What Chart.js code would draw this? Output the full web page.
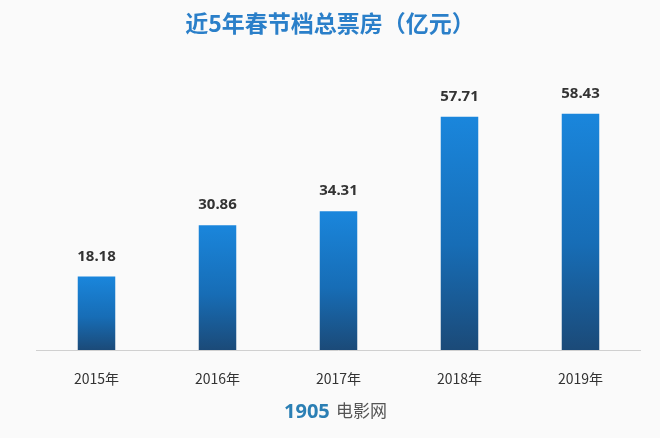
<!DOCTYPE html>
<html>
<head>
<meta charset="utf-8">
<script src="https://cdn.jsdelivr.net/npm/chart.js@4"></script>
<style>
  body { margin: 0; background: #fafafa; }
  #wrap { width: 660px; height: 438px; }
</style>
</head>
<body>
<div id="wrap"><canvas id="myChart" width="660" height="438"></canvas></div>
<script>
var years = ["2015年", "2016年", "2017年", "2018年", "2019年"];
var boxOffice = [18.18, 30.86, 34.31, 57.71, 58.43];
var chartTitle = "近5年春节档总票房（亿元）";

var ctx = document.getElementById("myChart").getContext("2d");

// labels, baseline, title and logo
var decorations = {
    id: "decorations",
    afterDatasetsDraw: function (chart) {
        var c = chart.ctx;
        var x = chart.scales.x, y = chart.scales.y;
        var area = chart.chartArea;
        c.save();
        c.strokeStyle = "#d0d0d0";
        c.lineWidth = 1;
        c.beginPath();
        c.moveTo(area.left, y.getPixelForValue(0) + 0.5);
        c.lineTo(area.right, y.getPixelForValue(0) + 0.5);
        c.stroke();

        c.textAlign = "center";
        c.fillStyle = "#333";
        c.font = "bold 15px 'Noto Sans', 'DejaVu Sans', sans-serif";
        boxOffice.forEach(function (v, i) {
            c.fillText(v.toFixed(2), x.getPixelForValue(i), y.getPixelForValue(v) - 16);
        });
        c.font = "14px 'Noto Sans CJK SC', sans-serif";
        c.fillStyle = "#333";
        years.forEach(function (label, i) {
            c.fillText(label, x.getPixelForValue(i), 384);
        });

        c.font = "bold 23px 'Noto Sans CJK SC', sans-serif";
        c.fillStyle = "#2a7fc9";
        c.fillText(chartTitle, 330, 32);

        c.textAlign = "left";
        c.font = "bold 20px 'Noto Sans', sans-serif";
        c.fillStyle = "#2b7fb4";
        c.fillText("1905", 284, 418);
        c.font = "17px 'Noto Sans CJK SC', sans-serif";
        c.fillStyle = "#555";
        c.fillText("电影网", 336, 417);
        c.restore();
    }
};

// each bar gets its own gradient, bright at the top, dark at the base
function barGradient(context) {
    var chart = context.chart;
    if (!chart.chartArea || context.raw === undefined) return "#1a7fd4";
    var top = chart.scales.y.getPixelForValue(context.raw);
    var bottom = chart.scales.y.getPixelForValue(0);
    var g = chart.ctx.createLinearGradient(0, top, 0, bottom);
    g.addColorStop(0, "#1a86dc");
    g.addColorStop(0.55, "#176db6");
    g.addColorStop(1, "#1b4a78");
    return g;
}

var barChart = new Chart(ctx, {
    type: "bar",
    data: {
        labels: years,
        datasets: [{
            data: boxOffice,
            backgroundColor: barGradient,
            barPercentage: 0.31,
            categoryPercentage: 1
        }]
    },
    options: {
        responsive: false,
        animation: false,
        layout: { padding: { left: 36, right: 19, top: 67, bottom: 88 } },
        plugins: { legend: { display: false }, tooltip: { enabled: false } },
        scales: {
            x: { display: false },
            y: { display: false, min: 0, max: 70 }
        }
    },
    plugins: [decorations]
});
</script>
</body>
</html>
